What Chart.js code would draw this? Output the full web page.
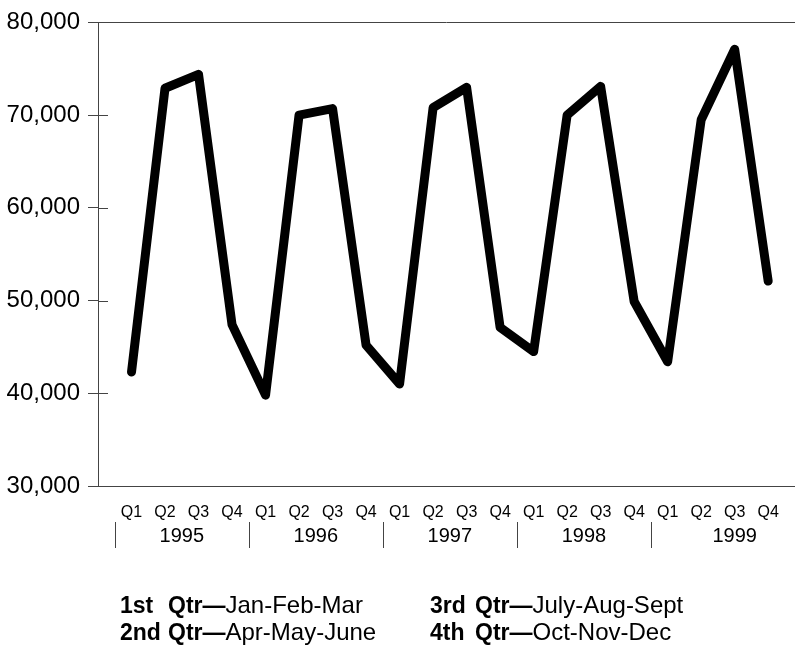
<!DOCTYPE html>
<html>
<head>
<meta charset="utf-8">
<script src="https://cdn.jsdelivr.net/npm/chart.js@4"></script>
<style>
  html, body { margin: 0; padding: 0; background: #fff; }
  #wrap { width: 795px; height: 646px; position: relative; }
</style>
</head>
<body>
<div id="wrap"><canvas id="grafica"></canvas></div>
<script>
// datos trimestrales
const years = ['1995', '1996', '1997', '1998', '1999'];
const quarters = ['Q1', 'Q2', 'Q3', 'Q4'];
const sales = [
  42300, 72900, 74400, 47400,
  39800, 70000, 70700, 45200,
  41000, 70800, 73000, 47100,
  44500, 70000, 73100, 49900,
  43400, 69500, 77100, 52100
];
const yTicks = [30000, 40000, 50000, 60000, 70000, 80000];
const footnotes = [
  ['1st', 'Qtr\u2014', 'Jan-Feb-Mar'],
  ['2nd', 'Qtr\u2014', 'Apr-May-June'],
  ['3rd', 'Qtr\u2014', 'July-Aug-Sept'],
  ['4th', 'Qtr\u2014', 'Oct-Nov-Dec']
];

const FONT = '"Liberation Sans", Arial, sans-serif';
const AXIS_COLOR = '#444';

// extra stuff drawn on top: inner ticks, top frame line, year groups, footnote
const decoraciones = {
  id: 'decoraciones',
  afterDraw(chart) {
    const ctx = chart.ctx;
    const area = chart.chartArea;
    const xs = chart.scales.x;
    const ys = chart.scales.y;
    ctx.save();
    ctx.strokeStyle = AXIS_COLOR;
    ctx.lineWidth = 1;

    // top line
    ctx.beginPath();
    ctx.moveTo(area.left, Math.round(area.top) + 0.5);
    ctx.lineTo(chart.width, Math.round(area.top) + 0.5);
    ctx.stroke();

    // ticks also reach inside the plot
    yTicks.forEach(v => {
      const y = Math.round(ys.getPixelForValue(v)) + 0.5;
      ctx.beginPath();
      ctx.moveTo(area.left, y);
      ctx.lineTo(area.left + 10, y);
      ctx.stroke();
    });

    // year separators and labels
    ctx.fillStyle = '#000';
    ctx.font = '20px ' + FONT;
    ctx.textAlign = 'center';
    ctx.textBaseline = 'middle';
    years.forEach((yr, g) => {
      const start = g * quarters.length - 0.5;
      const end = g === years.length - 1 ? start + 5 : start + quarters.length;
      const sx = Math.round(xs.getPixelForValue(start)) + 0.5;
      ctx.beginPath();
      ctx.moveTo(sx, 522);
      ctx.lineTo(sx, 548);
      ctx.stroke();
      ctx.fillText(yr, (xs.getPixelForValue(start) + xs.getPixelForValue(end)) / 2, 536);
    });

    // footnote
    ctx.textAlign = 'left';
    ctx.textBaseline = 'alphabetic';
    const cols = [[120, 168], [430, 475]];
    footnotes.forEach((f, i) => {
      const col = cols[Math.floor(i / 2)];
      const y = 613 + (i % 2) * 27;
      ctx.font = 'bold 23px ' + FONT;
      ctx.fillText(f[0], col[0], y);
      ctx.fillText(f[1], col[1], y);
      const w = ctx.measureText(f[1]).width;
      ctx.font = '24px ' + FONT;
      ctx.fillText(f[2], col[1] + w, y);
    });
    ctx.restore();
  }
};

function dibujarGrafica() {
  const ctx = document.getElementById('grafica').getContext('2d');
  const puntos = sales.map((v, i) => ({ x: i, y: v }));

  new Chart(ctx, {
    type: 'line',
    data: {
      datasets: [{
        data: puntos,
        borderColor: '#000',
        backgroundColor: '#000',
        borderWidth: 9,
        borderCapStyle: 'round',
        borderJoinStyle: 'round',
        pointRadius: 0,
        tension: 0,
        clip: false
      }]
    },
    options: {
      responsive: true,
      maintainAspectRatio: false,
      animation: false,
      layout: { padding: { top: 22, right: 0, left: 0, bottom: 0 } },
      scales: {
        x: {
          type: 'linear',
          min: -1,
          max: 19.8,
          grid: { display: false, drawTicks: false },
          border: { display: true, color: AXIS_COLOR, width: 1 },
          ticks: {
            stepSize: 1,
            includeBounds: false,
            autoSkip: false,
            maxRotation: 0,
            padding: 17,
            color: '#000',
            font: { family: FONT, size: 16 },
            callback: v => (Number.isInteger(v) && v >= 0 && v < sales.length) ? quarters[v % 4] : ''
          },
          afterFit: s => { s.height = 160; s.paddingRight = 0; }
        },
        y: {
          min: 30000,
          max: 80000,
          grid: { drawOnChartArea: false, drawTicks: true, tickLength: 10, color: AXIS_COLOR },
          border: { display: true, color: AXIS_COLOR, width: 1 },
          ticks: {
            stepSize: 10000,
            padding: 8,
            color: '#000',
            font: { family: FONT, size: 24 },
            callback: v => v.toLocaleString('en-US')
          },
          afterFit: s => { s.width = 98; }
        }
      },
      plugins: {
        legend: { display: false },
        title: { display: false },
        tooltip: { enabled: false }
      }
    },
    plugins: [decoraciones]
  });
}

document.addEventListener('DOMContentLoaded', dibujarGrafica);
</script>
</body>
</html>
